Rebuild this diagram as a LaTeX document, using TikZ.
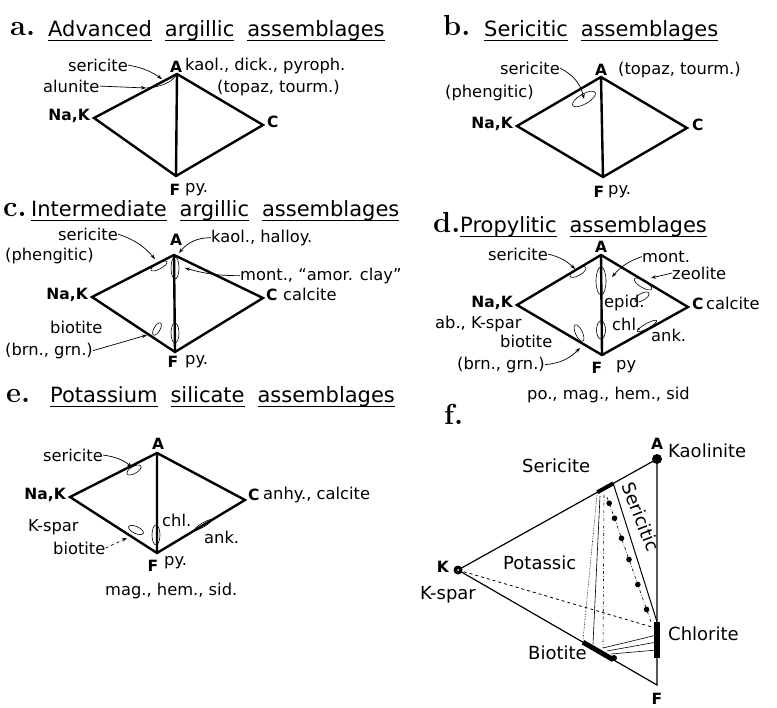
\documentclass[tikz,border=0pt]{standalone}
\usepackage{fontspec}
\newfontfamily\lb{DejaVu Sans}
\usetikzlibrary{arrows.meta,calc}
\newcommand\uw[1]{\setbox0=\hbox{#1}\rlap{\rule[-4pt]{\wd0}{0.9pt}}\box0}
\newcommand\wsp{\hspace{13pt}}
\begin{document}
\begin{tikzpicture}[x=1pt,y=-1pt,
 lab/.style={font=\lb\fontsize{16.3}{18}\selectfont, inner sep=0pt},
 vlab/.style={font=\lb\bfseries\fontsize{15.5}{17}\selectfont, inner sep=0pt},
 flab/.style={font=\lb\fontsize{18}{20}\selectfont, inner sep=0pt},
 ttl/.style={font=\lb\fontsize{21}{23}\selectfont, inner sep=0pt, anchor=base west},
 plet/.style={font=\bfseries\fontsize{29}{30}\selectfont, inner sep=0pt, anchor=base west},
 edge/.style={line width=2.4pt, line join=miter},
 ell/.style={draw, line width=0.6pt},
 lead/.style={line width=0.7pt, -{Stealth[length=5pt,width=3.5pt]}},
 thinl/.style={line width=0.6pt}]
\useasboundingbox (0,0) rectangle (777,708);

% ---------- panel a ----------
\coordinate (aA) at (177,74); \coordinate (aN) at (94,118);
\coordinate (aC) at (263,125); \coordinate (aF) at (176,176);
\draw[edge] (aA)--(aN)--(aF)--(aC)--cycle (aA)--(aF);
\node[plet] (aL) at (10,36) {a.};
\node[ttl] (aT) at (48,37) {\uw{Advanced}\wsp\uw{argillic}\wsp\uw{assemblages}};
\node[vlab] (aAl) at (176,67) {A};
\node[lab,anchor=mid west] (a1) at (185,68) {kaol., dick., pyroph.};
\node[lab,anchor=mid west] (a2) at (217,90) {(topaz, tourm.)};
\node[vlab,anchor=mid east] (aNl) at (90,118) {Na,K};
\node[vlab,anchor=mid west] (aCl) at (267,125) {C};
\node[vlab] (aFl) at (175,190) {F};
\node[lab,anchor=mid west] (aFp) at (185,190) {py.};
\node[lab,anchor=mid west] (aS) at (68,69) {sericite};
\node[lab,anchor=mid west] (aU) at (43,90) {alunite};
\coordinate (aSt) at (162,79); \coordinate (aUt) at (146,88);
\draw[lead] (aS.east) to[bend left=12] (aSt);
\draw[lead] (aU.east) -- (aUt);
\draw[ell] (aUt) .. controls (160,87) and (172,83) .. (aA);

% ---------- panel b ----------
\coordinate (bA) at (601,77); \coordinate (bN) at (517,126);
\coordinate (bC) at (687,128); \coordinate (bF) at (603,177);
\draw[edge] (bA)--(bN)--(bF)--(bC)--cycle (bA)--(bF);
\node[plet] (bL) at (443,36) {b.};
\node[ttl] (bT) at (484,37) {\uw{Sericitic}\wsp\uw{assemblages}};
\node[vlab] (bAl) at (601,70) {A};
\node[lab,anchor=mid west] (b1) at (618,72) {(topaz, tourm.)};
\node[lab,anchor=mid west] (bS) at (500,72) {sericite};
\node[lab,anchor=mid west] (bP) at (445,95) {(phengitic)};
\coordinate (bE) at (584,99);
\draw[ell, rotate around={30:(bE)}] (bE) ellipse [x radius=13pt, y radius=5pt];
\draw[lead] (bS.east) to[bend left=25] (bE);
\node[vlab,anchor=mid east] (bNl) at (513,126) {Na,K};
\node[vlab,anchor=mid west] (bCl) at (692,128) {C};
\node[vlab] (bFl) at (599,192) {F};
\node[lab,anchor=mid west] (bFp) at (608,192) {py.};

% ---------- panel c ----------
\coordinate (cA) at (174,255); \coordinate (cN) at (92,297);
\coordinate (cC) at (263,298); \coordinate (cF) at (175,352);
\draw[edge] (cA)--(cN)--(cF)--(cC)--cycle (cA)--(cF);
\node[plet] (cL) at (3,217) {c.};
\node[ttl] (cT) at (31,217) {\uw{Intermediate}\wsp\uw{argillic}\wsp\uw{assemblages}};
\node[vlab] (cAl) at (176,240) {A};
\node[lab,anchor=mid west] (c1) at (211,240) {kaol., halloy.};
\coordinate (cKt) at (179,253);
\draw[lead] (c1.west) to[bend right=25] (cKt);
\node[lab,anchor=mid west] (c2) at (240,278) {mont., “amor. clay”};
\coordinate (cMt) at (185,268);
\draw[lead] (c2.west) to[bend left=8] (cMt);
\node[lab,anchor=mid west] (cS) at (58,238) {sericite};
\node[lab,anchor=mid west] (cP) at (5,258) {(phengitic)};
\coordinate (cSe) at (159,266);
\draw[ell, rotate around={28:(cSe)}] (cSe) ellipse [x radius=9pt, y radius=3pt];
\draw[lead] (cS.east) to[bend left=15] (155,259);
\coordinate (cE1) at (175,268); \coordinate (cE2) at (175,333);
\draw[ell] (cE1) ellipse [x radius=4pt, y radius=11pt];
\draw[ell] (cE2) ellipse [x radius=4pt, y radius=10pt];
\coordinate (cB) at (157,329);
\draw[ell, rotate around={60:(cB)}] (cB) ellipse [x radius=7pt, y radius=3pt];
\node[vlab,anchor=mid east] (cNl) at (88,297) {Na,K};
\node[vlab,anchor=mid west] (cCl) at (266,298) {C};
\node[lab,anchor=mid west] (cCa) at (283,298) {calcite};
\node[lab,anchor=mid west] (cBi) at (50,331) {biotite};
\node[lab,anchor=mid west] (cBg) at (5,353) {(brn., grn.)};
\coordinate (cBt) at (147,335);
\draw[lead] (cBg.east) -- (cBt);
\node[vlab] (cFl) at (173,362) {F};
\node[lab,anchor=mid west] (cFp) at (185,362) {py.};

% ---------- panel d ----------
\coordinate (dA) at (601,255); \coordinate (dN) at (517,305);
\coordinate (dC) at (688,307); \coordinate (dF) at (602,355);
\draw[edge] (dA)--(dN)--(dF)--(dC)--cycle (dA)--(dF);
\node[plet] (dL) at (433,233) {d.};
\node[ttl] (dT) at (460,233) {\uw{Propylitic}\wsp\uw{assemblages}};
\node[vlab] (dAl) at (601,247) {A};
\node[lab,anchor=mid west] (dS) at (488,258) {sericite};
\coordinate (dSe) at (578,272);
\draw[ell, rotate around={30:(dSe)}] (dSe) ellipse [x radius=9pt, y radius=3.5pt];
\draw[lead] (dS.east) to[bend left=15] (575,269);
\node[lab,anchor=mid west] (dM) at (642,260) {mont.};
\coordinate (dMe) at (601,281);
\draw[ell] (dMe) ellipse [x radius=5pt, y radius=14pt];
\draw[lead] (dM.west) to[bend right=15] (612,277);
\node[lab,anchor=mid west] (dZ) at (672,277) {zeolite};
\coordinate (dZe) at (643,284); \coordinate (dZ2) at (642,297);
\draw[ell, rotate around={-31:(dZe)}] (dZe) ellipse [x radius=10pt, y radius=3.5pt];
\draw[ell, rotate around={30:(dZ2)}] (dZ2) ellipse [x radius=8pt, y radius=3.5pt];
\draw[lead] (dZ.west) -- (651,278);
\node[lab,anchor=mid west] (dEp) at (604,305) {epid.};
\node[vlab,anchor=mid east] (dNl) at (513,305) {Na,K};
\node[vlab,anchor=mid west] (dCl) at (692,307) {C};
\node[lab,anchor=mid west] (dCa) at (706,307) {calcite};
\node[lab,anchor=mid west] (dAb) at (435,326) {ab., K-spar};
\node[lab,anchor=mid west] (dBi) at (500,345) {biotite};
\node[lab,anchor=mid west] (dBg) at (457,367) {(brn., grn.)};
\coordinate (dBe) at (579,333);
\draw[ell, rotate around={-65:(dBe)}] (dBe) ellipse [x radius=9pt, y radius=3.5pt];
\draw[lead] (dBg.east) to[bend right=20] (580,348);
\node[lab,anchor=mid west] (dCh) at (612,328) {chl.};
\coordinate (dCe) at (601,330);
\draw[ell] (dCe) ellipse [x radius=4.5pt, y radius=9pt];
\node[lab,anchor=mid west] (dAn) at (651,339) {ank.};
\coordinate (dAe) at (647,326);
\draw[ell, rotate around={29:(dAe)}] (dAe) ellipse [x radius=11pt, y radius=2.5pt];
\node[vlab] (dFl) at (597,368) {F};
\node[lab,anchor=mid west] (dFp) at (616,367) {py};
\node[lab,anchor=mid west] (dPo) at (527,397) {po., mag., hem., sid};

% ---------- panel e ----------
\coordinate (eA) at (157,453); \coordinate (eN) at (70,497);
\coordinate (eC) at (245,500); \coordinate (eF) at (157,553);
\draw[edge] (eA)--(eN)--(eF)--(eC)--cycle (eA)--(eF);
\node[plet] (eL) at (6,403) {e.};
\node[ttl] (eT) at (50,403) {\uw{Potassium}\wsp\uw{silicate}\wsp\uw{assemblages}};
\node[vlab] (eAl) at (158,444) {A};
\node[lab,anchor=mid west] (eS) at (43,459) {sericite};
\coordinate (eSe) at (134,470);
\draw[ell, rotate around={30:(eSe)}] (eSe) ellipse [x radius=8pt, y radius=3.5pt];
\draw[lead] (eS.east) to[bend left=15] (132,467);
\node[vlab,anchor=mid east] (eNl) at (66,497) {Na,K};
\node[vlab,anchor=mid west] (eCl) at (248,498) {C};
\node[lab,anchor=mid west] (eCa) at (263,497) {anhy., calcite};
\node[lab,anchor=mid west] (eK) at (28,529) {K-spar};
\node[lab,anchor=mid west] (eBi) at (53,552) {biotite};
\coordinate (eBe) at (136,530);
\draw[ell, rotate around={-25:(eBe)}] (eBe) ellipse [x radius=8pt, y radius=3.5pt];
\draw[lead, dashed] (eBi.east) -- (127,538);
\node[lab,anchor=mid west] (eCh) at (162,524) {chl.};
\coordinate (eCe) at (156,535);
\draw[ell] (eCe) ellipse [x radius=4pt, y radius=10pt];
\node[lab,anchor=mid west] (eAn) at (204,541) {ank.};
\coordinate (eAe) at (203,525);
\draw[ell, rotate around={31:(eAe)}] (eAe) ellipse [x radius=10pt, y radius=2pt];
\node[vlab] (eFl) at (153,566) {F};
\node[lab,anchor=mid west] (eFp) at (164,563) {py.};
\node[lab,anchor=mid west] (eMa) at (105,593) {mag., hem., sid.};

% ---------- panel f ----------
\node[plet] (fL) at (444,425) {f.};
\coordinate (fA) at (657,459); \coordinate (fK) at (458,570); \coordinate (fF) at (657,685);
\draw[line width=1.2pt] (fA)--(fK)--(fF)--cycle;
\coordinate (s1) at ($(fK)!0.70!(fA)$); \coordinate (s2) at ($(fK)!0.78!(fA)$);
\coordinate (c1) at ($(fA)!0.72!(fF)$); \coordinate (c2) at ($(fA)!0.88!(fF)$);
\coordinate (cm) at ($(fA)!0.75!(fF)$);
\coordinate (b1) at ($(fK)!0.628!(fF)$); \coordinate (b2) at ($(fK)!0.78!(fF)$);
% thin lines sericite -> biotite
\coordinate (t1a) at (597,495); \coordinate (t1b) at (583,640);
\coordinate (t2a) at (600,496); \coordinate (t2b) at (593,644);
\coordinate (t3a) at (604,495); \coordinate (t3b) at (603,648);
\draw[thinl, densely dotted] (t1a)--(t1b);
\draw[thinl] (t2a)--(t2b);
\draw[thinl, dash dot] (t3a)--(t3b);
% tie lines biotite -> chlorite
\coordinate (u1a) at (603,648); \coordinate (u1b) at (657,635);
\coordinate (u2a) at (607,651); \coordinate (u2b) at (657,642);
\coordinate (u3a) at (611,654); \coordinate (u3b) at (657,650);
\draw[thinl] (u1a)--(u1b) (u2a)--(u2b) (u3a)--(u3b);
% dashed K -> chlorite
\draw[dashed, line width=0.8pt] (fK)--(cm);
% sericitic boundary
\draw[line width=1pt] (s2)--(c1);
% dash-dot line with dots
\coordinate (d0) at (607,497); \coordinate (d1) at (651,622);
\draw[thinl, dash dot] (d0)--(d1);
\foreach \t in {0.05,0.17,0.33,0.5,0.7,0.9} \fill ($(d0)!\t!(d1)$) circle (2.8pt);
% thick segments
\draw[line width=4pt] (s1)--(s2);
\draw[line width=6pt] (c1)--(c2);
\draw[line width=5pt] (b1)--(b2);
\fill (fA) circle (5pt);
\fill (fK) circle (4.5pt); \fill[white] (fK) circle (1pt);
\fill (614,658) circle (3pt);
\node[vlab] (fAl) at (657,444) {A};
\node[flab,anchor=mid west] (fKa) at (668,455) {Kaolinite};
\node[flab,anchor=mid west] (fSe) at (522,470) {Sericite};
\node[flab,anchor=mid west] (fPo) at (503,567) {Potassic};
\node[flab,rotate=-69] (fSc) at (641,517) {Sericitic};
\node[vlab,anchor=mid east] (fKl) at (449,570) {K};
\node[flab,anchor=mid west] (fKs) at (420,597) {K-spar};
\node[flab,anchor=mid west] (fCh) at (668,638) {Chlorite};
\node[flab,anchor=mid west] (fBi) at (528,657) {Biotite};
\node[vlab] (fFl) at (657,699) {F};
\end{tikzpicture}
\end{document}
